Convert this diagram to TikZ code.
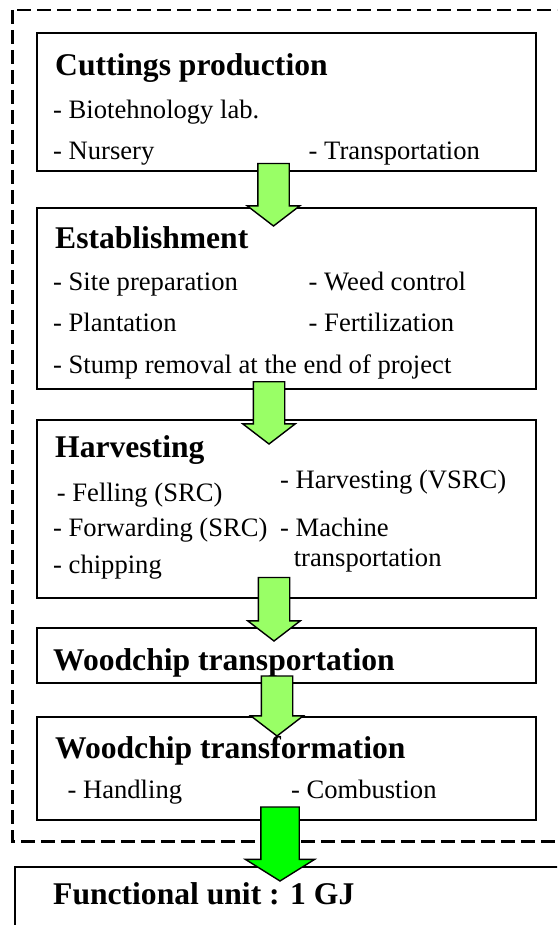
\documentclass[tikz,border=0pt]{standalone}
\usepackage{fontspec}
\setmainfont{Liberation Serif}
\usetikzlibrary{shapes.arrows}
\definecolor{lightgreen}{RGB}{153,255,102}
\definecolor{brightgreen}{RGB}{0,255,0}

\begin{document}
\begin{tikzpicture}[x=1pt, y=-1pt,
    stage/.style={draw=black, line width=2pt, fill=white, anchor=north west,
        minimum width=499pt, inner sep=0pt, outer sep=0pt},
    title/.style={anchor=base west, inner sep=0pt,
        font=\fontsize{31.6pt}{36pt}\selectfont\bfseries},
    item/.style={anchor=base west, inner sep=0pt,
        font=\fontsize{26.6pt}{30pt}\selectfont},
    flow/.style={single arrow, draw=black, line width=1.4pt, fill=lightgreen,
        shape border rotate=270, anchor=tail, inner sep=15pt, outer sep=0pt,
        minimum width=51pt, single arrow head extend=10.5pt,
        single arrow tip angle=105},
    boundary/.style={draw=black, line width=2.6pt, dash pattern=on 14pt off 6pt}
]
    \path[use as bounding box] (0,0) rectangle (557,925);
    \clip (0,0) rectangle (557,925);
    \draw[boundary] (12.7,10) rectangle (620,841.7);

    \node[stage, minimum height=137.4pt] (cuttings) at (36.5,33.3) {};
    \node[stage, minimum height=181.6pt] (establish) at (36.5,207.7) {};
    \node[stage, minimum height=178.3pt] (harvest) at (36.5,420) {};
    \node[stage, minimum height=54.4pt] (transport) at (36.5,628.3) {};
    \node[stage, minimum height=103.3pt] (transform) at (36.5,716.7) {};
    \node[stage, minimum width=600pt, minimum height=100pt] (unit) at (14.5,867.3) {};

    \node[title] (cuttings-t) at (55,76) {Cuttings production};
    \node[item] (cuttings-a) at (53,119) {- Biotehnology lab.};
    \node[item] (cuttings-b) at (53,159.3) {- Nursery};
    \node[item] (cuttings-c) at (308.5,159.3) {- Transportation};

    \node[title] (establish-t) at (55,248) {Establishment};
    \node[item] (establish-a) at (53,290) {- Site preparation};
    \node[item] (establish-b) at (308.5,290) {- Weed control};
    \node[item] (establish-c) at (53,331.7) {- Plantation};
    \node[item] (establish-d) at (308.5,331.7) {- Fertilization};
    \node[item] (establish-e) at (53,373.3) {- Stump removal at the end of project};

    \node[title] (harvest-t) at (55,457.3) {Harvesting};
    \node[item] (harvest-a) at (280,488.3) {- Harvesting (VSRC)};
    \node[item] (harvest-b) at (56.7,501.7) {- Felling (SRC)};
    \node[item] (harvest-c) at (53,536.7) {- Forwarding (SRC)};
    \node[item] (harvest-d) at (280,536.7) {- Machine};
    \node[item] (harvest-e) at (293.6,566.7) {transportation};
    \node[item] (harvest-f) at (53,573.3) {- chipping};

    \node[title] (transport-t) at (53,670) {Woodchip transportation};

    \node[title] (transform-t) at (55,758) {Woodchip transformation};
    \node[item] (transform-a) at (67.4,798) {- Handling};
    \node[item] (transform-b) at (290.8,798) {- Combustion};

    \node[title] (unit-t) at (53,904) {Functional unit : 1 GJ};

    \node[flow, minimum height=62.5pt] (arr1) at (273.5,163.5) {};
    \node[flow, minimum height=62.3pt] (arr2) at (269,381.7) {};
    \node[flow, minimum height=63.5pt] (arr3) at (274,577.5) {};
    \node[flow, minimum height=60pt] (arr4) at (277,676) {};
    \node[flow, fill=brightgreen, inner sep=18.5pt, minimum height=74pt, minimum width=68pt,
        single arrow head extend=15.5pt, single arrow tip angle=116] (arr5) at (280,807) {};
\end{tikzpicture}
\end{document}
